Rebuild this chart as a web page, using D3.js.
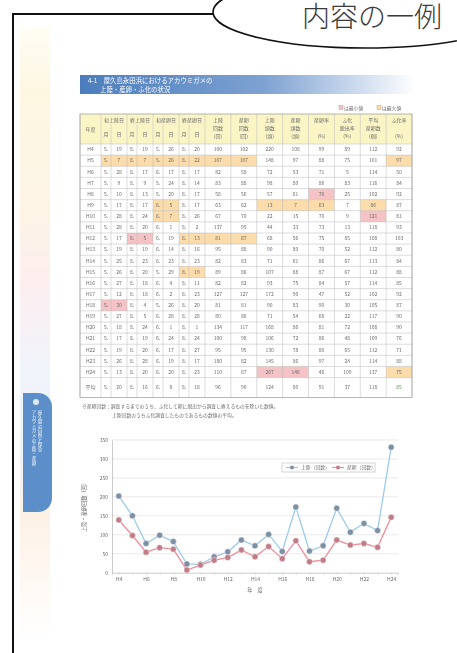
<!DOCTYPE html>
<html>
<head>
<meta charset="utf-8">
<script src="https://cdn.jsdelivr.net/npm/d3@7"></script>
<style>
  body { margin: 0; background: #fff; }
  svg { display: block; font-family: "Noto Sans CJK JP", "Noto Sans", sans-serif; }
</style>
</head>
<body>
<div id="page"></div>
<script>
// ---- data ----
var years = ["H4","H5","H6","H7","H8","H9","H10","H11","H12","H13","H14",
             "H15","H16","H17","H18","H19","H20","H21","H22","H23","H24"];
var tickYears = ["H4","H6","H8","H10","H12","H14","H16","H18","H20","H22","H24"];

// chart series (回数)
var landing = [202,150,77,99,82,23,22,42,55,86,71,101,56,173,57,71,170,107,130,111,331];
var nesting = [139,98,54,66,62,7,20,33,40,60,42,69,37,84,29,33,86,73,77,67,146];
var yTicks = [0,50,100,150,200,250,300,350];

// table: date columns (月.日)
var firstLanding = ["5.19","5.7","5.28","5.9","5.10","5.17","5.28","5.28","5.17","5.19","5.25",
                    "5.26","5.27","5.12","5.30","5.27","5.18","5.17","5.19","5.26","5.13"];
var lastLanding  = ["8.19","8.7","8.17","8.9","8.13","8.17","8.24","8.20","8.5","8.19","8.23",
                    "8.20","8.18","8.18","8.4","8.5","8.24","8.19","8.20","8.28","8.20"];
var firstNesting = ["5.26","5.26","6.17","5.24","5.20","6.5","6.7","6.1","6.19","6.14","6.23",
                    "5.29","6.4","6.2","5.26","6.28","6.1","6.24","6.17","6.19","6.20"];
var lastNesting  = ["8.20","8.22","8.17","8.14","8.17","8.17","8.26","8.2","8.13","8.16","8.23",
                    "8.19","8.11","8.23","8.20","8.28","8.1","8.24","8.27","8.17","8.23"];
// table: number columns
var colA = [100,107,82,83,58,63,67,137,81,95,82,89,82,127,81,80,134,100,95,180,110];
var colB = [102,107,58,88,56,62,70,95,87,88,83,86,82,127,81,86,117,98,95,82,87];
var colC = [220,148,72,98,57,13,22,44,68,90,71,107,93,172,90,71,168,106,130,145,267];
var colD = [108,97,53,80,61,7,15,33,56,80,61,88,75,90,83,54,86,72,78,86,146];
var colE = [99,88,71,86,70,63,70,73,75,70,86,87,84,47,90,68,81,86,80,97,46];
var colF = [89,75,5,83,25,7,9,13,85,52,67,67,57,52,30,22,72,48,65,24,109];
var colG = [112,101,114,116,102,86,121,118,108,112,113,112,114,102,105,117,108,109,112,114,137];
var colH = [92,97,50,84,92,87,81,93,103,80,84,88,85,92,87,90,90,76,71,88,75];
var avgRow = ["平均","5.20","8.16","6.8","8.18",96,90,124,80,91,37,118,85];

var groupHeads = ["初上陸日","終上陸日","初産卵日","終産卵日"];
var numHeads = [["上陸","回数","(回)"],["産卵","回数","(回)"],["上陸","頭数","(頭)"],
                ["産卵","頭数","(頭)"],["産卵率","","(%)"],["ふ化","脱出率","(%)"],
                ["平均","産卵数","(個)"],["ふ化率","","(%)"]];

// min / max marked cells: [row, firstCol, lastCol]
var minCells = [[4,13,13],[6,15,15],[8,3,4],[14,1,2],[20,11,12]];
var maxCells = [[1,1,10],[1,16,16],[5,5,6],[5,11,13],[5,15,15],[6,5,6],[8,7,10],[11,7,8],[20,16,16]];

// ---- drawing ----
var W = 457, H = 653;
var ink = "#6a6a6a";
var svg = d3.select("#page").append("svg").attr("width", W).attr("height", H);
var defs = svg.append("defs");

var bar = defs.append("linearGradient").attr("id", "barGrad");
bar.append("stop").attr("offset", "0%").attr("stop-color", "#4b7dbd");
bar.append("stop").attr("offset", "55%").attr("stop-color", "#7ea2d2");
bar.append("stop").attr("offset", "100%").attr("stop-color", "#ffffff");

var strip = defs.append("linearGradient").attr("id", "stripGrad")
    .attr("x1", 0).attr("x2", 0).attr("y1", 0).attr("y2", 1);
[["0%","#fffdf4"],["10%","#fdf7e2"],["30%","#fdf4e6"],["42%","#fdeef0"],
 ["55%","#f1f4fa"],["68%","#eef2f9"],["80%","#fdf1e6"],["100%","#ffffff"]]
  .forEach(s => strip.append("stop").attr("offset", s[0]).attr("stop-color", s[1]));

defs.append("filter").attr("id", "soft")
  .append("feGaussianBlur").attr("stdDeviation", 0.55);

var page = svg.append("g").attr("filter", "url(#soft)");

// left side strip and chapter tab
page.append("rect").attr("x", 20).attr("y", 28).attr("width", 30).attr("height", 610)
    .attr("fill", "url(#stripGrad)");
page.append("path")
    .attr("d", "M23,393 H38 A14,14 0 0 1 52,407 V498 A14,14 0 0 1 38,512 H23 Z")
    .attr("fill", "#5b8fc9");
page.append("circle").attr("cx", 36).attr("cy", 402).attr("r", 3).attr("fill", "#dfeaf6");
page.append("text").attr("x", 34).attr("y", 410)
    .style("writing-mode", "vertical-rl").attr("font-size", 4.6).attr("fill", "#eef4fb")
    .text("アカウミガメの上陸・産卵");
page.append("text").attr("x", 40).attr("y", 410)
    .style("writing-mode", "vertical-rl").attr("font-size", 4.6).attr("fill", "#eef4fb")
    .text("屋久島の自然と保全");

// title bar
page.append("rect").attr("x", 80).attr("y", 75).attr("width", 336).attr("height", 19)
    .attr("fill", "url(#barGrad)");
page.append("text").attr("x", 88).attr("y", 82.5).attr("font-size", 6.4).attr("fill", "#fff")
    .text("4-1　屋久島永田浜におけるアカウミガメの");
page.append("text").attr("x", 100).attr("y", 91.5).attr("font-size", 6.4).attr("fill", "#fff")
    .text("上陸・産卵・ふ化の状況");

// min / max legend
var minColor = "#f5c3c6", maxColor = "#fbdcaa";
page.append("rect").attr("x", 339).attr("y", 105.5).attr("width", 4).attr("height", 4)
    .attr("fill", minColor).attr("stroke", "#999").attr("stroke-width", 0.4);
page.append("text").attr("x", 344).attr("y", 109.5).attr("font-size", 4.8).attr("fill", ink)
    .text("は最小値");
page.append("rect").attr("x", 377).attr("y", 105.5).attr("width", 4).attr("height", 4)
    .attr("fill", maxColor).attr("stroke", "#999").attr("stroke-width", 0.4);
page.append("text").attr("x", 382).attr("y", 109.5).attr("font-size", 4.8).attr("fill", ink)
    .text("は最大値");

// ---- table ----
var colWidths = [21, 10,16, 10,16, 10,16, 10,16].concat(d3.range(8).map(() => 207 / 8));
var colX = [80];
colWidths.forEach((w, i) => colX.push(colX[i] + w));
var tTop = 114, hBottom = 144, bodyBottom = 377.6, tBottom = 397.5;
var rowScale = d3.scaleBand().domain(d3.range(years.length)).range([hBottom, bodyBottom]);

var table = page.append("g");
table.append("rect").attr("x", 80).attr("y", tTop).attr("width", 332).attr("height", hBottom - tTop)
    .attr("fill", "#fbf5c6");

function markCells(list, color) {
  table.selectAll(null).data(list).enter().append("rect")
    .attr("x", d => colX[d[1]])
    .attr("y", d => rowScale(d[0]))
    .attr("width", d => colX[d[2] + 1] - colX[d[1]])
    .attr("height", rowScale.bandwidth())
    .attr("fill", color);
}
markCells(maxCells, maxColor);
markCells(minCells, minColor);

// grid lines
table.selectAll(".hl").data(d3.range(years.length + 1)).enter().append("line")
    .attr("x1", 80).attr("x2", 412)
    .attr("y1", d => hBottom + d * rowScale.step()).attr("y2", d => hBottom + d * rowScale.step())
    .attr("stroke", "#b9b9b9").attr("stroke-width", 0.5);
table.selectAll(".vl").data(colX).enter().append("line")
    .attr("x1", d => d).attr("x2", d => d)
    .attr("y1", (d, i) => (i >= 2 && i <= 8 && i % 2 === 0) ? 124 : tTop)
    .attr("y2", tBottom)
    .attr("stroke", "#b9b9b9").attr("stroke-width", 0.5);
table.append("rect").attr("x", 80).attr("y", tTop).attr("width", 332).attr("height", tBottom - tTop)
    .attr("fill", "none").attr("stroke", "#999").attr("stroke-width", 0.7);

// header text
table.append("text").attr("x", 90.5).attr("y", 131).attr("text-anchor", "middle")
    .attr("font-size", 5).attr("fill", ink).text("年度");
groupHeads.forEach((g, i) => {
  var x0 = colX[1 + i * 2], x2 = colX[3 + i * 2];
  table.append("text").attr("x", (x0 + x2) / 2).attr("y", 121.5).attr("text-anchor", "middle")
      .attr("font-size", 5).attr("fill", ink).text(g);
  table.append("text").attr("x", (x0 + colX[2 + i * 2]) / 2).attr("y", 136)
      .attr("text-anchor", "middle").attr("font-size", 5).attr("fill", ink).text("月");
  table.append("text").attr("x", (colX[2 + i * 2] + x2) / 2).attr("y", 136)
      .attr("text-anchor", "middle").attr("font-size", 5).attr("fill", ink).text("日");
});
numHeads.forEach((h, i) => {
  var cx = (colX[9 + i] + colX[10 + i]) / 2;
  h.forEach((t, j) => {
    table.append("text").attr("x", cx).attr("y", 122 + j * 8).attr("text-anchor", "middle")
        .attr("font-size", 5).attr("fill", ink).text(t);
  });
});

// body text
var numCols = [colA, colB, colC, colD, colE, colF, colG, colH];
var dateCols = [firstLanding, lastLanding, firstNesting, lastNesting];
years.forEach((yr, r) => {
  var cells = [yr];
  dateCols.forEach(c => { var p = c[r].split("."); cells.push(p[0] + ".", p[1]); });
  numCols.forEach(c => cells.push(c[r]));
  var cy = rowScale(r) + rowScale.bandwidth() / 2 + 1.8;
  cells.forEach((v, c) => {
    table.append("text").attr("x", (colX[c] + colX[c + 1]) / 2).attr("y", cy)
        .attr("text-anchor", "middle").attr("font-size", 5).attr("fill", ink).text(v);
  });
});
// average row
var avgCells = [avgRow[0]];
avgRow.slice(1, 5).forEach(v => { var p = v.split("."); avgCells.push(p[0] + ".", p[1]); });
avgRow.slice(5).forEach(v => avgCells.push(v));
avgCells.forEach((v, c) => {
  table.append("text").attr("x", (colX[c] + colX[c + 1]) / 2).attr("y", (bodyBottom + tBottom) / 2 + 1.8)
      .attr("text-anchor", "middle").attr("font-size", 5)
      .attr("fill", c === 16 ? "#6a9a5a" : ink).text(v);
});

// note under table
page.append("text").attr("x", 82).attr("y", 408).attr("font-size", 4.8).attr("fill", ink)
    .text("※産卵回数：調査するまでのうち、ふ化して卵に脱出から調査し終えるものを除いた数値。");
page.append("text").attr("x", 112).attr("y", 417).attr("font-size", 4.8).attr("fill", ink)
    .text("上陸回数のうちふ化調査したものであるもの数値の平均。");

// ---- line chart ----
var x = d3.scalePoint().domain(years).range([112, 398]).padding(0.5);
var y = d3.scaleLinear().domain([0, 350]).range([572.7, 440]);
var chart = page.append("g");

chart.selectAll(".grid").data(yTicks.slice(1)).enter().append("line")
    .attr("x1", 112).attr("x2", 398).attr("y1", d => y(d)).attr("y2", d => y(d))
    .attr("stroke", "#dcdcdc").attr("stroke-width", 0.6);

var yAxis = chart.append("g").attr("transform", "translate(112,0)")
    .call(d3.axisLeft(y).tickValues(yTicks).tickSize(0).tickPadding(4));
yAxis.select(".domain").attr("stroke", "#aaa").attr("stroke-width", 0.6);
yAxis.selectAll("text").attr("font-size", 5).attr("fill", ink)
    .attr("font-family", "\"Noto Sans CJK JP\", sans-serif");

var xAxis = chart.append("g").attr("transform", "translate(0,572.7)")
    .call(d3.axisBottom(x).tickSize(2).tickPadding(3)
      .tickFormat(d => tickYears.indexOf(d) >= 0 ? d : ""));
xAxis.select(".domain").attr("stroke", "#aaa").attr("stroke-width", 0.6);
xAxis.selectAll("line").attr("stroke", "#bbb").attr("stroke-width", 0.5);
xAxis.selectAll("text").attr("font-size", 5).attr("fill", ink)
    .attr("font-family", "\"Noto Sans CJK JP\", sans-serif");

chart.append("text").attr("x", 255).attr("y", 592).attr("text-anchor", "middle")
    .attr("font-size", 5.2).attr("fill", ink).text("年　度");
chart.append("text").attr("transform", "translate(86,506) rotate(-90)").attr("text-anchor", "middle")
    .attr("font-size", 5.2).attr("fill", ink).text("上陸・産卵回数（回）");

var series = [
  { name: "上陸（回数）", values: landing, line: "#9ccbe8", mark: "#7c8fa4" },
  { name: "産卵（回数）", values: nesting, line: "#ef8d99", mark: "#c17c87" }
];
var lineGen = d3.line().x((d, i) => x(years[i])).y(d => y(d));
series.forEach(s => {
  chart.append("path").datum(s.values).attr("d", lineGen)
      .attr("fill", "none").attr("stroke", s.line).attr("stroke-width", 1.3);
  chart.selectAll(null).data(s.values).enter().append("circle")
      .attr("cx", (d, i) => x(years[i])).attr("cy", d => y(d)).attr("r", 3)
      .attr("fill", s.mark).attr("stroke", "#eee").attr("stroke-width", 0.5);
});

// chart legend
var lg = chart.append("g").attr("transform", "translate(282,463)");
lg.append("rect").attr("width", 93).attr("height", 9).attr("fill", "#fff")
    .attr("stroke", "#aaa").attr("stroke-width", 0.5);
series.forEach((s, i) => {
  var gx = 4 + i * 46;
  lg.append("line").attr("x1", gx).attr("x2", gx + 12).attr("y1", 4.5).attr("y2", 4.5)
      .attr("stroke", s.line).attr("stroke-width", 1.2);
  lg.append("circle").attr("cx", gx + 6).attr("cy", 4.5).attr("r", 2).attr("fill", s.mark);
  lg.append("text").attr("x", gx + 15).attr("y", 6.3).attr("font-size", 4.8).attr("fill", ink)
      .text(s.name);
});

// ---- frame and speech bubble ----
svg.append("line").attr("x1", 13).attr("x2", 13).attr("y1", 13).attr("y2", H)
    .attr("stroke", "#111").attr("stroke-width", 2);
svg.append("line").attr("x1", 12).attr("x2", 230).attr("y1", 14).attr("y2", 14)
    .attr("stroke", "#111").attr("stroke-width", 2);
svg.append("ellipse").attr("cx", 365).attr("cy", 12).attr("rx", 152).attr("ry", 36)
    .attr("fill", "#fff").attr("stroke", "#111").attr("stroke-width", 1.6);
svg.append("text").attr("x", 302).attr("y", 27).attr("font-size", 28).attr("font-weight", 300)
    .attr("fill", "#3a3a3a").text("内容の一例");
</script>
</body>
</html>
